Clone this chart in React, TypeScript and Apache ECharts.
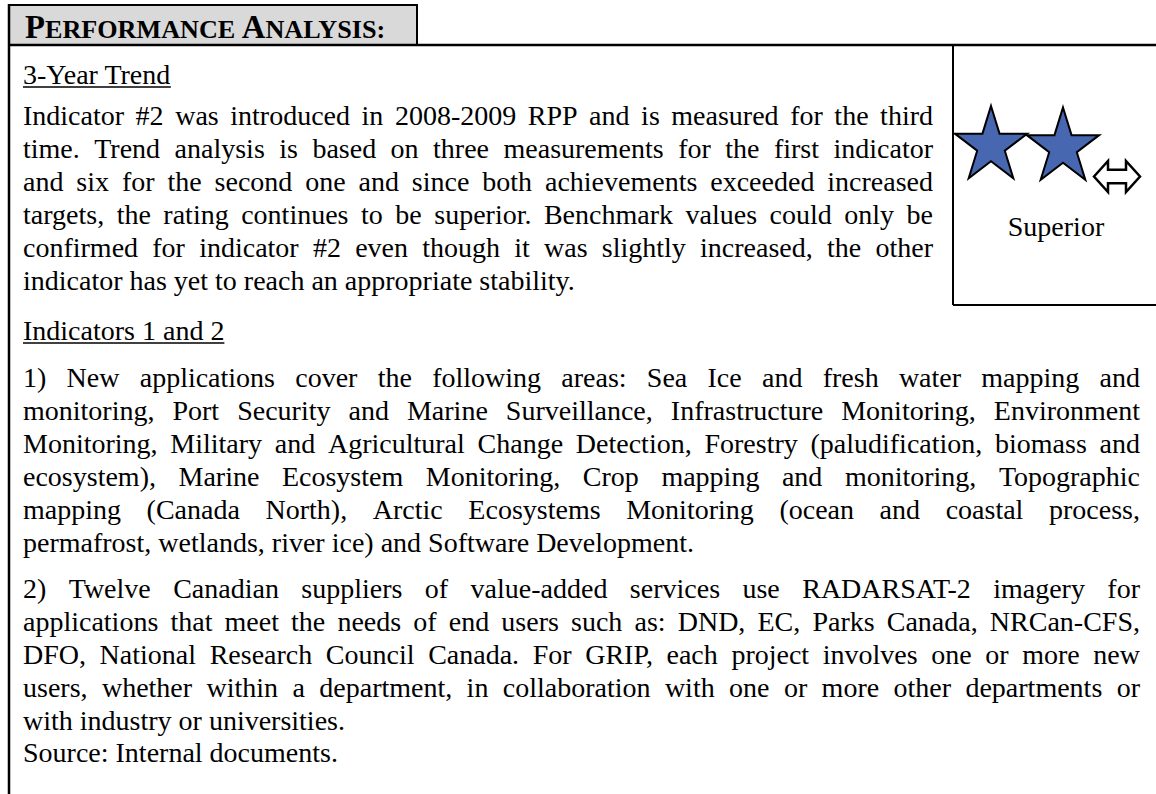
import React, { useEffect, useRef } from "react";
import * as echarts from "echarts";

const W = 1156;
const H = 794;
const FONT = "'Liberation Serif', 'Times New Roman', serif";

const headerParts = [
  ["P", "ERFORMANCE"],
  ["A", "NALYSIS:"],
];
const heading1 = "3-Year Trend";
const para1 = [
  "Indicator #2 was introduced in 2008-2009 RPP and is measured for the third",
  "time. Trend analysis is based on three measurements for the first indicator",
  "and six for the second one and since both achievements exceeded increased",
  "targets, the rating continues to be superior. Benchmark values could only be",
  "confirmed for indicator #2 even though it was slightly increased, the other",
  "indicator has yet to reach an appropriate stability.",
];
const heading2 = "Indicators 1 and 2";
const para2 = [
  "1) New applications cover the following areas: Sea Ice and fresh water mapping and",
  "monitoring, Port Security and Marine Surveillance, Infrastructure Monitoring, Environment",
  "Monitoring, Military and Agricultural Change Detection, Forestry (paludification, biomass and",
  "ecosystem), Marine Ecosystem Monitoring, Crop mapping and monitoring, Topographic",
  "mapping (Canada North), Arctic Ecosystems Monitoring (ocean and coastal process,",
  "permafrost, wetlands, river ice) and Software Development.",
];
const para3 = [
  "2) Twelve Canadian suppliers of value-added services use RADARSAT-2 imagery for",
  "applications that meet the needs of end users such as: DND, EC, Parks Canada, NRCan-CFS,",
  "DFO, National Research Council Canada. For GRIP, each project involves one or more new",
  "users, whether within a department, in collaboration with one or more other departments or",
  "with industry or universities.",
];
const sourceLine = "Source: Internal documents.";
const ratingLabel = "Superior";
const ratingStars = 2;

export default function App() {
  const ref = useRef<HTMLDivElement>(null);

  useEffect(() => {
    document.body.style.margin = "0";
    const el = ref.current!;
    const chart = echarts.init(el, null, { renderer: "svg" });
    const canvas = document.createElement("canvas");
    const ctx = canvas.getContext("2d")!;
    const measure = (t: string, size: number, bold = false) => {
      ctx.font = `${bold ? "bold " : ""}${size}px "Liberation Serif"`;
      return ctx.measureText(t).width;
    };

    const BODY = 28;
    const MID = 0.3;
    const LEFT = 23;
    const RIGHT1 = 933;
    const RIGHT2 = 1140;
    const LH = 33;

    const els: any[] = [];
    const txt = (x: number, base: number, t: string, size: number, bold = false, align = "left") => {
      els.push({
        type: "text",
        x,
        y: base - MID * size,
        silent: true,
        style: {
          text: t,
          fontSize: size,
          fontFamily: FONT,
          fontWeight: bold ? "bold" : "normal",
          fill: "#000",
          textAlign: align,
          textVerticalAlign: "middle",
        },
      });
    };
    const justify = (line: string, base: number, left: number, right: number) => {
      const words = line.split(" ");
      const widths = words.map((w) => measure(w, BODY));
      const total = widths.reduce((a, b) => a + b, 0);
      const gap = (right - left - total) / Math.max(1, words.length - 1);
      let x = left;
      words.forEach((w, i) => {
        txt(x, base, w, BODY);
        x += widths[i] + gap;
      });
    };
    const paragraph = (lines: string[], start: number, right: number) => {
      let y = start;
      lines.forEach((ln, i) => {
        if (i === lines.length - 1) {
          txt(LEFT, y, ln, BODY);
        } else {
          justify(ln, y, LEFT, right);
        }
        y += LH;
      });
      return y - LH;
    };
    const lineEl = (x1: number, y1: number, x2: number, y2: number, w = 2) =>
      els.push({ type: "line", silent: true, shape: { x1, y1, x2, y2 }, style: { stroke: "#000", lineWidth: w } });

    // header box
    els.push({
      type: "rect",
      silent: true,
      shape: { x: 9, y: 5, width: 408, height: 40 },
      style: { fill: "#d9d9d9", stroke: "#000", lineWidth: 2 },
    });
    const HB = 32.7;
    const HS = HB * 0.8;
    let hx = 25;
    headerParts.forEach((p, i) => {
      txt(hx, 37, p[0], HB, true);
      hx += measure(p[0], HB, true);
      txt(hx, 37, p[1], HS, true);
      hx += measure(p[1], HS, true);
      if (i === 0) hx += measure(" ", HS, true);
    });

    // borders
    lineEl(9, 4, 9, H, 2.5);
    lineEl(9, 45, W, 45, 2.5);

    const heading = (t: string, base: number) => {
      txt(LEFT, base, t, BODY);
      lineEl(LEFT, base + 4, LEFT + measure(t, BODY), base + 4, 1.5);
    };
    heading(heading1, 83);
    const p1End = paragraph(para1, 124, RIGHT1);
    const boxBottom = p1End + 16;
    heading(heading2, p1End + 50);
    const p2End = paragraph(para2, p1End + 97, RIGHT2);
    const p3End = paragraph(para3, p2End + 46, RIGHT2);
    txt(LEFT, p3End + 32, sourceLine, BODY);

    // rating cell
    lineEl(953, 45, 953, boxBottom, 2);
    lineEl(953, boxBottom, W, boxBottom, 2);

    const starPts = (cx: number, cy: number, rx: number, ry: number) => {
      const pts: number[][] = [];
      for (let k = 0; k < 10; k++) {
        const a = -Math.PI / 2 + (k * Math.PI) / 5;
        const f = k % 2 === 0 ? 1 : 0.382;
        pts.push([cx + rx * f * Math.cos(a), cy + ry * f * Math.sin(a)]);
      }
      return pts;
    };
    for (let s = 0; s < ratingStars; s++) {
      els.push({
        type: "polygon",
        silent: true,
        shape: { points: starPts(991 + s * 72, 146 + s * 1.5, 38, 40) },
        style: { fill: "#4767b0", stroke: "#000", lineWidth: 2 },
      });
    }
    // left-right arrow
    const ax = 1094, ay = 161, aw = 46, ah = 31, hw = 14;
    els.push({
      type: "polygon",
      silent: true,
      shape: {
        points: [
          [ax, ay + ah / 2],
          [ax + hw, ay],
          [ax + hw, ay + ah * 0.28],
          [ax + aw - hw, ay + ah * 0.28],
          [ax + aw - hw, ay],
          [ax + aw, ay + ah / 2],
          [ax + aw - hw, ay + ah],
          [ax + aw - hw, ay + ah * 0.72],
          [ax + hw, ay + ah * 0.72],
          [ax + hw, ay + ah],
        ],
      },
      style: { fill: "#fff", stroke: "#000", lineWidth: 2.5 },
    });
    txt(1056, 235, ratingLabel, BODY, false, "center");

    chart.setOption({ animation: false, graphic: { elements: els } });
    return () => chart.dispose();
  }, []);

  return <div ref={ref} style={{ width: W, height: H, background: "#fff" }} />;
}
